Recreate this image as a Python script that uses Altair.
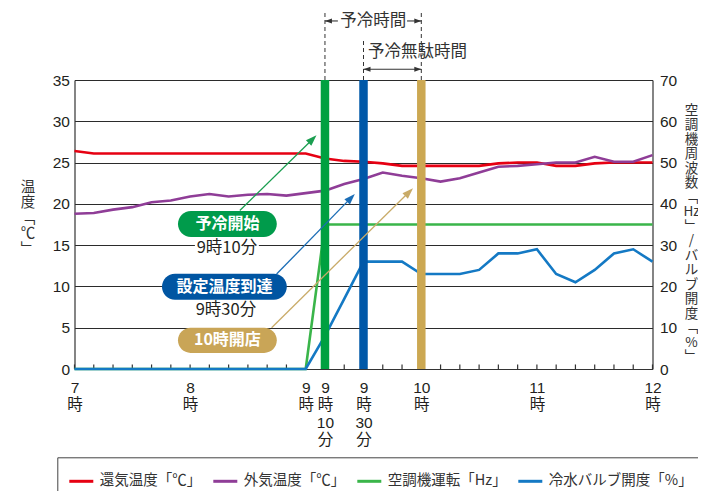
import math
import json
import altair as alt
import pandas as pd

# ---------------- data ----------------
minutes = [0, 10, 20, 30, 40, 50, 60, 70, 80, 90, 100, 110, 120, 130, 140, 150,
           160, 170, 180, 190, 200, 210, 220, 230, 240, 250, 260, 270, 280, 290, 300]
return_air_c = [26.4, 26.1, 26.1, 26.1, 26.1, 26.1, 26.1, 26.1, 26.1, 26.1, 26.1, 26.1, 26.1,
                25.5, 25.2, 25.1, 24.9, 24.6, 24.6, 24.6, 24.6, 24.6, 24.9, 25.0, 25.0,
                24.6, 24.6, 24.9, 25.0, 25.0, 25.0]
outside_air_c = [18.8, 18.9, 19.3, 19.6, 20.2, 20.4, 20.9, 21.2, 20.9, 21.1, 21.2, 21.0, 21.3,
                 21.6, 22.4, 23.0, 23.8, 23.4, 23.1, 22.7, 23.1, 23.8, 24.5, 24.6, 24.8,
                 25.0, 25.0, 25.7, 25.1, 25.1, 25.9]
aircon_hz = [0, 0, 0, 0, 0, 0, 0, 0, 0, 0, 0, 0, 0,
             35, 35, 35, 35, 35, 35, 35, 35, 35, 35, 35, 35, 35, 35, 35, 35, 35, 35]
valve_pct = [0, 0, 0, 0, 0, 0, 0, 0, 0, 0, 0, 0, 0,
             8, 17, 26, 26, 26, 23, 23, 23, 24, 28, 28, 29, 23, 21, 24, 28, 29, 26]

series_names = ["還気温度「℃」", "外気温度「℃」", "空調機運転「Hz」", "冷水バルブ開度「%」"]
series_colors = ["#e60012", "#8f3d97", "#3ab54a", "#1479c4"]

x_tick_values = [0, 60, 120, 130, 150, 180, 240, 300]
x_tick_labels = [["7", "時"], ["8", "時"], ["9", "時"], ["9", "時", "10", "分"],
                 ["9", "時", "30", "分"], ["10", "時"], ["11", "時"], ["12", "時"]]
left_ticks = [0, 5, 10, 15, 20, 25, 30, 35]
right_ticks = [0, 10, 20, 30, 40, 50, 60, 70]
left_title = ["温", "度", "﹁", "℃", "﹂"]
right_title = ["空", "調", "機", "周", "波", "数", "﹁", "Hz", "﹂", "/",
               "バ", "ル", "ブ", "開", "度", "﹁", "%", "﹂"]

event_minutes = [130, 150, 180]
event_colors = ["#00a040", "#0058a8", "#cca852"]

callout_labels = ["予冷開始", "設定温度到達", "10時開店"]
callout_fills = ["#009b4b", "#0055a2", "#c9a557"]
callout_x1 = [53.7, 45.4, 53.7]
callout_x2 = [105.0, 110.2, 105.0]
callout_y1 = [16.0, 8.4, 1.95]
callout_y2 = [19.15, 11.55, 5.0]
callout_times = ["9時10分", "9時30分"]
callout_time_x = [79.1, 78.6]
callout_time_y = [14.7, 7.1]

arrow_x1 = [85.8, 104.9, 102.3]
arrow_y1 = [19.2, 11.5, 5.0]
arrow_x2 = [125.6, 145.5, 175.7]
arrow_y2 = [28.3, 21.2, 21.9]
arrow_colors = ["#1a9e50", "#1b6db6", "#c9ab68"]

dash_x = [130, 150, 180]
dash_top = [43.45, 40.06, 43.45]
span_label = "予冷時間"
waste_label = "予冷無駄時間"

# ---------------- geometry / styles ----------------
W, H = 578, 289
JP = "Noto Sans CJK JP"
NUM = "Liberation Sans, Noto Sans CJK JP"
px_per_min = W / 300.0
px_per_deg = H / 35.0
ARROW_PATH = "M0,-1L0.7,1L-0.7,1Z"

x_scale = alt.Scale(domain=[0, 300], nice=False, zero=False)
yl_scale = alt.Scale(domain=[0, 35], nice=False, zero=False)
yr_scale = alt.Scale(domain=[0, 70], nice=False, zero=False)
yc_scale = alt.Scale(domain=[0, 35], nice=False, zero=False)


def label_expr(values, labels):
    expr = "''"
    for v, lab in reversed(list(zip(values, labels))):
        expr = f"datum.value == {v} ? {json.dumps(lab, ensure_ascii=False)} : ({expr})"
    return expr


x_axis = alt.Axis(values=x_tick_values, labelExpr=label_expr(x_tick_values, x_tick_labels),
                  title=None, orient="bottom", grid=False, ticks=False, tickSize=0,
                  domain=True, domainColor="#333333", domainWidth=1.2,
                  labelFont=NUM, labelFontSize=15.5, labelColor="#231f20",
                  labelBaseline="top", labelAlign="center", labelPadding=11,
                  labelLineHeight=17.5, labelOverlap=False, labelBound=False, labelFlush=False)

yl_axis = alt.Axis(orient="left", values=left_ticks, grid=True, gridColor="#2b2b2b",
                   gridWidth=1.2, ticks=False, tickSize=0, domainColor="#333333", domainWidth=1.2,
                   labelFont=NUM, labelFontSize=15.5, labelColor="#231f20", labelPadding=5,
                   title=left_title, titleAngle=0, titleFont=JP, titleFontSize=14.5,
                   titleFontWeight="normal", titleColor="#333333", titleLineHeight=15.5,
                   titleAlign="center", titleBaseline="top", titleX=-47, titleY=100)

yr_axis = alt.Axis(orient="right", values=right_ticks, grid=False, ticks=False, tickSize=0,
                   domainColor="#333333", domainWidth=1.2,
                   labelFont=NUM, labelFontSize=15.5, labelColor="#231f20", labelPadding=7,
                   title=right_title, titleAngle=0, titleFont=JP, titleFontSize=13.5,
                   titleFontWeight="normal", titleColor="#333333", titleLineHeight=14.5,
                   titleAlign="center", titleBaseline="top", titleX=38.5, titleY=23)


def X(field):
    return alt.X(f"{field}:Q", scale=x_scale, axis=x_axis)


def YC(field):
    return alt.Y(f"{field}:Q", scale=yc_scale, axis=None)


legend = alt.Legend(title=None, orient="none", legendX=-17.2, legendY=377.3,
                    direction="horizontal", strokeColor="#444444", fillColor="white",
                    padding=10.5, symbolType="stroke", symbolSize=576, symbolStrokeWidth=3,
                    labelFont=JP, labelFontSize=14.5, labelColor="#333333", labelOffset=5,
                    columnPadding=5, labelLimit=300)
color_enc = alt.Color("series:N", scale=alt.Scale(domain=series_names, range=series_colors),
                      legend=legend, sort=series_names)

# ---------------- layer A: temperatures (left axis) ----------------
temp_df = pd.concat([
    pd.DataFrame({"t": minutes, "v": return_air_c, "series": series_names[0]}),
    pd.DataFrame({"t": minutes, "v": outside_air_c, "series": series_names[1]}),
])
tick_df = pd.DataFrame({"t": minutes})

ticks = alt.Chart(tick_df).mark_rule(color="#333333", strokeWidth=1.2).encode(
    x=X("t"), y=alt.YDatum(0, scale=yl_scale, axis=yl_axis), y2=alt.Y2Datum(0.55))
temp_lines = alt.Chart(temp_df).mark_line(strokeWidth=2.6).encode(
    x=X("t"), y=alt.Y("v:Q", scale=yl_scale, axis=yl_axis), color=color_enc,
    order=alt.Order("t:Q"))
layer_a = alt.layer(ticks, temp_lines)

# ---------------- layer B: Hz / % (right axis) + event bars ----------------
right_df = pd.concat([
    pd.DataFrame({"t": minutes, "v": aircon_hz, "series": series_names[2]}),
    pd.DataFrame({"t": minutes, "v": valve_pct, "series": series_names[3]}),
])
right_lines = alt.Chart(right_df).mark_line(strokeWidth=2.6).encode(
    x=X("t"), y=alt.Y("v:Q", scale=yr_scale, axis=yr_axis), color=color_enc,
    order=alt.Order("t:Q"))
bars = []
for m, c in zip(event_minutes, event_colors):
    bars.append(alt.Chart(pd.DataFrame({"t": [m]})).mark_rule(strokeWidth=8.5, color=c).encode(
        x=X("t"), y=alt.YDatum(0, scale=yr_scale, axis=yr_axis), y2=alt.Y2Datum(70)))
layer_b = alt.layer(right_lines, *bars)

# ---------------- layer C: annotations ----------------
ann = []
dash_df = pd.DataFrame({"t": dash_x, "y": [35, 35, 35], "y2": dash_top})
ann.append(alt.Chart(dash_df).mark_rule(color="#333333", strokeWidth=1, strokeDash=[4, 3]).encode(
    x=X("t"), y=YC("y"), y2="y2:Q"))

span_y = 42.15
span_df = pd.DataFrame({"t": [dash_x[0], 172.6], "t2": [136.7, dash_x[2]], "y": [span_y, span_y]})
ann.append(alt.Chart(span_df).mark_rule(color="#333333", strokeWidth=1.1).encode(
    x=X("t"), x2="t2:Q", y=YC("y")))
head_off = 3.5 / px_per_min
span_heads = pd.DataFrame({"t": [dash_x[0] + head_off, dash_x[2] - head_off],
                           "y": [span_y, span_y], "a": [270, 90]})
ann.append(alt.Chart(span_heads).mark_point(shape=ARROW_PATH, filled=True, size=49, opacity=1,
                                            color="#333333").encode(
    x=X("t"), y=YC("y"), angle=alt.Angle("a:Q", scale=None)))
ann.append(alt.Chart(pd.DataFrame({"t": [155], "y": [span_y], "s": [span_label]})).mark_text(
    font=JP, fontSize=16.5, color="#333333", align="center", baseline="middle").encode(
    x=X("t"), y=YC("y"), text="s:N"))

waste_y = 36.31
ann.append(alt.Chart(pd.DataFrame({"t": [dash_x[1]], "t2": [dash_x[2]], "y": [waste_y]})).mark_rule(
    color="#333333", strokeWidth=1.1).encode(x=X("t"), x2="t2:Q", y=YC("y")))
waste_heads = pd.DataFrame({"t": [dash_x[1] + head_off, dash_x[2] - head_off],
                            "y": [waste_y, waste_y], "a": [270, 90]})
ann.append(alt.Chart(waste_heads).mark_point(shape=ARROW_PATH, filled=True, size=49, opacity=1,
                                             color="#333333").encode(
    x=X("t"), y=YC("y"), angle=alt.Angle("a:Q", scale=None)))
ann.append(alt.Chart(pd.DataFrame({"t": [152.4], "y": [38.4], "s": [waste_label]})).mark_text(
    font=JP, fontSize=16.5, color="#333333", align="left", baseline="middle").encode(
    x=X("t"), y=YC("y"), text="s:N"))

for x1, y1, x2, y2, c in zip(arrow_x1, arrow_y1, arrow_x2, arrow_y2, arrow_colors):
    dxp = (x2 - x1) * px_per_min
    dyp = (y2 - y1) * px_per_deg
    ang = math.degrees(math.atan2(dxp, dyp)) % 360
    L = math.hypot(dxp, dyp)
    back = 5.5 / L
    hx = x2 - (x2 - x1) * back
    hy = y2 - (y2 - y1) * back
    ann.append(alt.Chart(pd.DataFrame({"t": [x1], "t2": [hx], "y": [y1], "y2": [hy]})).mark_rule(
        color=c, strokeWidth=1.3).encode(x=X("t"), x2="t2:Q", y=YC("y"), y2="y2:Q"))
    ann.append(alt.Chart(pd.DataFrame({"t": [hx], "y": [hy], "a": [ang]})).mark_point(
        shape=ARROW_PATH, filled=True, size=121, opacity=1, color=c).encode(
        x=X("t"), y=YC("y"), angle=alt.Angle("a:Q", scale=None)))

for lab, fill, x1, x2, y1, y2 in zip(callout_labels, callout_fills, callout_x1, callout_x2,
                                      callout_y1, callout_y2):
    ann.append(alt.Chart(pd.DataFrame({"t": [x1], "t2": [x2], "y": [y1], "y2": [y2]})).mark_rect(
        cornerRadius=13, color=fill).encode(x=X("t"), x2="t2:Q", y=YC("y"), y2="y2:Q"))
    ann.append(alt.Chart(pd.DataFrame({"t": [(x1 + x2) / 2], "y": [(y1 + y2) / 2], "s": [lab]})).mark_text(
        font=JP, fontSize=16, fontWeight="bold", color="white", align="center",
        baseline="middle").encode(x=X("t"), y=YC("y"), text="s:N"))

for s, tx, ty in zip(callout_times, callout_time_x, callout_time_y):
    ann.append(alt.Chart(pd.DataFrame({"t": [tx - 16.6], "t2": [tx + 16.6], "y": [ty - 1.05],
                                       "y2": [ty + 1.1]})).mark_rect(color="white").encode(
        x=X("t"), x2="t2:Q", y=YC("y"), y2="y2:Q"))
    ann.append(alt.Chart(pd.DataFrame({"t": [tx], "y": [ty], "s": [s]})).mark_text(
        font=JP, fontSize=16.5, color="#231f20", align="center", baseline="middle").encode(
        x=X("t"), y=YC("y"), text="s:N"))

layer_c = alt.layer(*ann)

chart = alt.layer(layer_a, layer_b, layer_c).resolve_scale(y="independent").properties(
    width=W, height=H,
    padding={"left": 66.5, "top": 72, "right": 45.5, "bottom": 122},
    autosize=alt.AutoSizeParams(type="none"),
).configure_view(stroke=None)

chart.save("out.html", embed_options={"renderer": "svg", "actions": False})
